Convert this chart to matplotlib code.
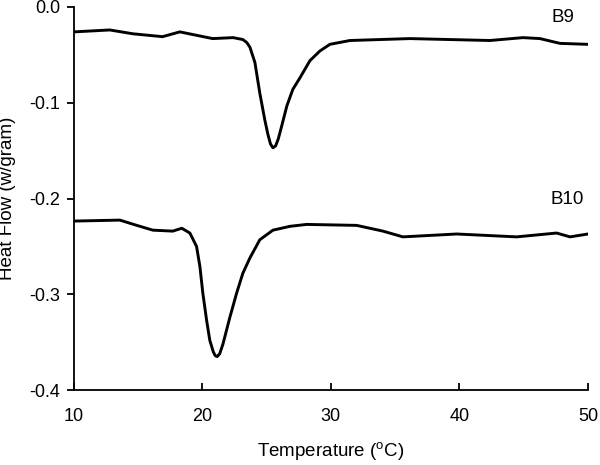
import matplotlib

matplotlib.use("Agg")
import matplotlib.pyplot as plt

plt.rcParams["font.family"] = ["Liberation Sans", "DejaVu Sans"]
plt.rcParams["mathtext.fontset"] = "custom"
plt.rcParams["mathtext.rm"] = "Liberation Sans"
plt.rcParams["axes.unicode_minus"] = False

# DSC traces
b9_temp = [10, 12.8, 14.6, 16.9, 18.25, 20.8, 22.4, 23.15, 23.45, 23.7, 24.09,
           24.47, 24.86, 25.1, 25.3, 25.49, 25.7, 25.9, 26.1, 26.58, 27.04,
           27.59, 28.37, 29.14, 29.92, 31.48, 36.15, 42.37, 44.94, 46.26,
           47.82, 50]
b9_flow = [-0.026, -0.024, -0.028, -0.031, -0.026, -0.033, -0.032, -0.034,
           -0.037, -0.042, -0.058, -0.090, -0.118, -0.133, -0.143, -0.147,
           -0.145, -0.138, -0.128, -0.103, -0.086, -0.074, -0.056, -0.046,
           -0.039, -0.035, -0.033, -0.035, -0.032, -0.033, -0.038, -0.039]

b10_temp = [10, 13.58, 14.9, 16.15, 17.7, 18.4, 19.03, 19.55, 19.81, 20.04,
            20.33, 20.58, 20.85, 21.0, 21.15, 21.35, 21.60, 22.14, 22.66, 23.15,
            23.70, 24.47, 25.49, 26.81, 28.11, 32.0, 34.05, 35.6, 39.78,
            44.45, 47.56, 48.6, 50]
b10_flow = [-0.2235, -0.2225, -0.228, -0.233, -0.234, -0.231, -0.236, -0.250,
            -0.271, -0.299, -0.327, -0.348, -0.360, -0.364, -0.365, -0.362,
            -0.352, -0.324, -0.299, -0.278, -0.262, -0.243, -0.233, -0.229,
            -0.227, -0.228, -0.234, -0.240, -0.237, -0.240, -0.236, -0.240,
            -0.237]

x_ticks = [10, 20, 30, 40, 50]
y_ticks = [0.0, -0.1, -0.2, -0.3, -0.4]

fig = plt.figure(figsize=(6, 4.65), dpi=100)
ax = fig.add_axes([0.123, 0.161, 0.857, 0.824])

ax.plot(b9_temp, b9_flow, color="black", lw=2.1)
ax.plot(b10_temp, b10_flow, color="black", lw=2.1)
ax.text(48.05, -0.011, "B9", fontsize=13.5, ha="center", va="center")
ax.text(48.4, -0.2015, "B10", fontsize=13.5, ha="center", va="center")

ax.set_xlim(10, 50)
ax.set_ylim(-0.4, 0.0)
ax.set_xticks(x_ticks)
ax.set_yticks(y_ticks)
ax.set_yticklabels([f"{v:.1f}" for v in y_ticks])
ax.tick_params(axis="x", direction="in", length=5, width=1.3, labelsize=13, pad=13)
ax.tick_params(axis="y", direction="out", length=5, width=1.3, labelsize=13, pad=5)
for s in ("top", "right"):
    ax.spines[s].set_visible(False)
for s in ("left", "bottom"):
    ax.spines[s].set_linewidth(1.3)

ax.set_xlabel(r"Temperature ($^{\mathrm{o}}$C)", fontsize=13.5)
ax.set_ylabel("Heat Flow (w/gram)", fontsize=13.5)
ax.xaxis.set_label_coords(0.5, -0.13)
ax.yaxis.set_label_coords(-0.112, 0.5)

fig.savefig("out.png", dpi=100)
